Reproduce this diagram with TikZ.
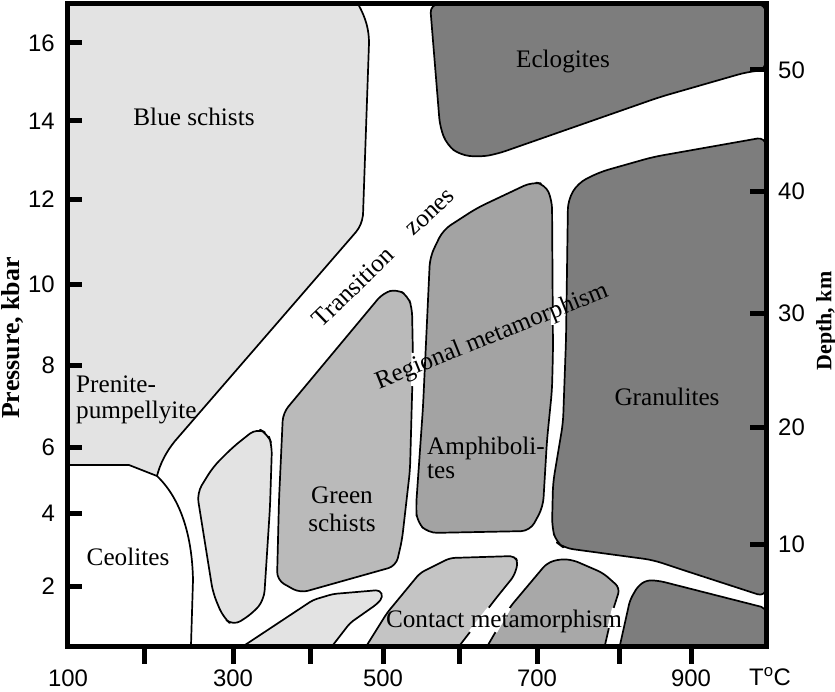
\documentclass[tikz,border=0pt]{standalone}
\usepackage{fontspec}
\setmainfont{Liberation Serif}
\newfontfamily\numfont{Liberation Sans}
\begin{document}
\begin{tikzpicture}[x=1bp,y=-1bp,
  region/.style={draw=black,line width=1.7bp,line join=round},
  gap/.style={draw=white,line width=3.2bp},
  lbl/.style={inner sep=0pt,font=\fontsize{25.3}{28}\selectfont},
  num/.style={inner sep=0pt,font=\numfont\fontsize{24}{26}\selectfont},
  ttl/.style={inner sep=0pt,font=\bfseries\fontsize{26}{28}\selectfont,rotate=90},
  tick/.style={line width=5bp}]
\useasboundingbox (0,0) rectangle (835,692);
\definecolor{cA}{gray}{0.89}
\definecolor{cB}{gray}{0.73}
\definecolor{cC}{gray}{0.64}
\definecolor{cD}{gray}{0.49}
\definecolor{cE}{gray}{0.77}
\definecolor{cF}{gray}{0.66}
% Blue schists / prenite region
\path[region,fill=cA] (66,4) -- (358,4) .. controls (366,18) and (369,30) .. (369,43)
  -- (363,215) .. controls (362,222) and (360,227) .. (356,232)
  -- (175,441) .. controls (166,452) and (160,464) .. (157,476)
  -- (129,465) -- (66,465) -- cycle;
% Ceolites boundary
\draw[region] (157,476) .. controls (178,496) and (192,530) .. (193,580) -- (191,645);
% small blob
\path[region,fill=cA,rounded corners=9bp] (197,493) -- (213,467) -- (233,447) -- (257,428)
  -- (268,434) -- (272,445) -- (270,507) -- (264,600) -- (253,613) -- (233,626)
  -- (223,617) -- (213,593) -- cycle;
% green schists
\path[region,fill=cB,rounded corners=8bp] (283,413) -- (383,293) -- (397,289) -- (408,296)
  -- (412,308) -- (413,360) -- (410,470) -- (402,540) -- (396,566) -- (300,593)
  -- (277,580) -- (279,500) -- cycle;
% bottom-left light strip
\path[region,fill=cA,rounded corners=4bp] (245,645) -- (313,600) -- (333,594) -- (380,590)
  -- (383,597) -- (377,604) -- (350,623) -- (333,645);
% contact left
\path[region,fill=cE,rounded corners=5bp] (367,645) -- (387,613) -- (420,573) -- (450,558)
  -- (515,556) -- (518,563) -- (514,576) -- (497,597) -- (460,645);
% contact middle
\path[region,fill=cF,rounded corners=6bp] (488,645) -- (510,607) -- (547,563) -- (560,559)
  -- (573,560) -- (603,573) -- (620,588) -- (613,610) -- (605,645);
% bottom-right dark
\path[region,fill=cD,rounded corners=5bp] (620,645) -- (630,600) -- (638,586) -- (647,580)
  -- (660,581) -- (766,608) -- (766,645);
% granulites
\path[region,fill=cD,rounded corners=9bp] (766,137) -- (653,157) -- (600,172) -- (578,183)
  -- (568,200) -- (566,340) -- (563,423) -- (553,483) -- (552,527) -- (556,542)
  -- (564,548) -- (653,560) -- (683,570) -- (766,597) -- cycle;
% eclogites
\path[region,fill=cD,rounded corners=9bp] (430,4) -- (766,4) -- (766,70) -- (747,72)
  -- (660,97) -- (497,154) -- (480,157) -- (460,155) -- (447,145) -- (440,127) -- cycle;
% amphibolites
\path[region,fill=cC,rounded corners=9bp] (532,182) -- (545,184) -- (552,200) -- (553,350)
  -- (552,390) -- (547,440) -- (543,507) -- (530,531) -- (428,533) -- (417,522)
  -- (416,507) -- (423,407) -- (428,300) -- (430,257) -- (443,230) -- (477,208) -- cycle;
% white breaks in outlines where labels cross
\draw[gap] (413,353) -- (412.7,386);
\draw[gap] (553,308) -- (553,325);
\draw[gap] (489,608) -- (470,632);
\draw[gap] (509.4,608) -- (495.5,632);
\draw[gap] (613.6,608) -- (609,628);
% frame
\draw[line width=5bp] (67,4) rectangle (766,646);
% ticks
\foreach \y/\v in {43/16,121/14,199/12,284/10,365/8,447/6,513/4,586/2}{
  \draw[tick] (67,\y) -- (82,\y);
  \node[num,anchor=east] (p\v) at (55,\y) {\v};}
\foreach \x in {144,233,310,383,459,537,619,691}{
  \draw[tick] (\x,646) -- (\x,664);}
\foreach \x/\v in {68/100,233/300,383/500,537/700,691/900}{
  \node[num] (t\v) at (\x,678) {\v};}
\node[num] (tc) at (770,677) {T\textsuperscript{o}C};
\foreach \y/\v in {70/50,191/40,313/30,427/20,544/10}{
  \draw[tick] (750,\y) -- (766,\y);
  \node[num,anchor=west] (d\v) at (778,\y) {\v};}
\node[ttl] (pres) at (13,338) {Pressure, kbar};
\node[ttl,font=\bfseries\fontsize{22}{24}\selectfont] (dep) at (826,321) {Depth, km};
% region labels
\node[lbl] (blue) at (194,117) {Blue schists};
\node[lbl] (ecl) at (563,61) {Eclogites};
\node[lbl,anchor=west] (pren1) at (76,384) {Prenite-};
\node[lbl,anchor=west] (pren2) at (76,412) {pumpellyite};
\node[lbl,rotate=44] (trans) at (353,287) {Transition};
\node[lbl,rotate=43] (zones) at (431,213) {zones};
\node[lbl] (gran) at (667,397) {Granulites};
\node[lbl,anchor=west] (amph1) at (427,448) {Amphiboli-};
\node[lbl,anchor=west] (amph2) at (427,472) {tes};
\node[lbl] (green1) at (342,495) {Green};
\node[lbl] (green2) at (342,523) {schists};
\node[lbl] (ceo) at (128,557) {Ceolites};
\node[lbl,rotate=22] (reg) at (492,337) {Regional metamorphism};
\node[lbl] (cont) at (504,621) {Contact metamorphism};
\end{tikzpicture}
\end{document}
